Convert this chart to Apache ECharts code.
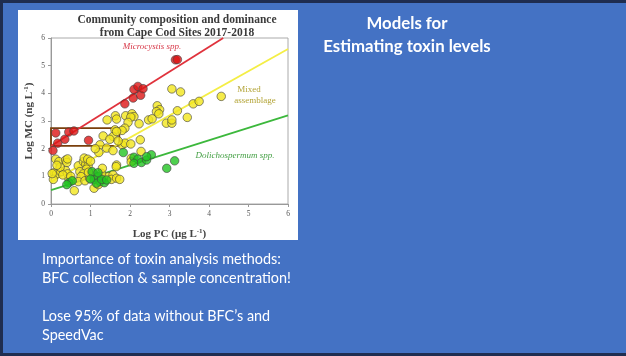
<!DOCTYPE html>
<html><head><meta charset="utf-8">
<script src="https://cdn.jsdelivr.net/npm/echarts@6/dist/echarts.min.js"></script>
<style>html,body{margin:0;padding:0;background:#4472C4;}#c{width:626px;height:356px;}</style>
</head><body><div id="c"></div>
<script>
const xTicks = [0,1,2,3,4,5,6];
const yTicks = [0,1,2,3,4,5,6];
const microcystis = [[0.05,1.93],[0.12,2.57],[0.17,2.2],[0.35,2.34],[0.45,2.6],[0.58,2.64],[0.95,2.3],[1.87,3.62],[2.08,3.83],[2.1,4.14],[2.2,4.25],[2.27,3.93],[2.33,4.17],[3.15,5.21],[3.2,5.22]];
const mixed = [[3.06,4.16],[3.28,4.05],[3.2,3.37],[3.45,3.13],[3.6,3.62],[3.75,3.71],[4.31,3.89],[2.92,2.92],[3.06,2.92],[3.06,3.04],
[1.42,3.04],[1.63,3.19],[1.66,3.07],[1.89,3.19],[2.05,3.26],[2.1,3.16],[2.02,3.14],[1.95,2.95],[2.23,2.9],[2.47,3.04],[2.56,3.08],[2.69,3.55],[2.75,3.41],[2.67,3.34],[2.73,3.26],
[1.62,2.68],[1.87,2.74],[1.8,2.66],[1.32,2.46],[1.57,2.44],[1.66,2.62],[1.49,2.34],[1.24,2.14],[1.41,2.02],[1.57,1.93],[1.8,2.14],[1.87,2.2],[2.02,2.17],[2.26,2.32],[2.28,1.9],[1.21,1.86],[1.12,2.0],[1.7,2.28],[1.66,1.41],[2.03,1.65],[2.03,1.52],[1.65,1.35],
[0.12,1.62],[0.2,1.53],[0.37,1.59],[0.4,1.5],[0.42,1.63],[0.08,1.13],[0.14,1.09],[0.25,1.17],[0.37,1.21],[0.42,1.09],[0.06,0.89],[0.23,1.33],[0.45,0.93],[0.52,0.84],[0.59,0.48],[0.69,1.38],[0.82,1.53],[0.88,1.44],[0.84,1.66],[0.94,1.38],[0.9,1.26],[0.73,1.17],[0.82,1.09],[0.76,0.99],[0.69,0.81],[0.86,0.84],[0.98,0.93],[1.09,0.57],[1.32,0.89],[1.45,0.99],[1.57,1.05],[1.53,0.89],[1.66,0.93],[1.74,0.89],[1.28,1.11],[1.07,1.11],[0.93,1.62],[1.3,1.29],[1.0,1.55],[0.03,1.1],[0.3,1.05],[0.15,1.4],[0.5,1.0],[0.95,1.15],[1.15,0.95],[1.2,0.7]];
const dolichospermum = [[0.45,0.77],[0.54,0.84],[0.4,0.7],[1.09,0.89],[1.19,0.99],[1.24,0.81],[1.35,0.77],[1.15,0.75],[1.28,0.89],[1.41,0.87],[1.04,1.17],[1.19,1.13],[1.0,0.9],[1.83,1.86],[2.1,1.69],[2.2,1.62],[2.1,1.47],[2.29,1.5],[2.42,1.59],[2.54,1.78],[2.42,1.71],[2.93,1.29],[3.13,1.56]];
const redLine = [[0,2.1],[4.36,6]];
const yellowLine = [[0,0.8],[6,5.6]];
const greenLine = [[0,0.5],[6,3.2]];
const boxCorners = [[0,2.1],[1.73,2.74]];

const chart = echarts.init(document.getElementById('c'), null, {renderer:'canvas'});
const serif = '"Liberation Serif","DejaVu Serif",serif';
const sans = 'Lato,"Open Sans",sans-serif';
function pts(data, color){
  return {type:'scatter', data, symbol:'circle', symbolSize:8.5,
    itemStyle:{color, borderColor:'#444', borderWidth:0.8}, z:5};
}
function ln(data, color){
  return {type:'line', data, symbol:'none', lineStyle:{color, width:1.8}, z:3, silent:true};
}
chart.setOption({
  backgroundColor:'#4472C4',
  animation:false,
  title:{text:'Community composition and dominance\nfrom Cape Cod Sites 2017-2018', left:172, top:9, textAlign:'center',
    textStyle:{fontFamily:serif, fontWeight:'bold', fontSize:11.5, color:'#3a3a3a', lineHeight:12.5}},
  graphic:[
    {type:'rect', shape:{x:0,y:0,width:3,height:356}, style:{fill:'#1f2d50'}, z:-1},
    {type:'rect', shape:{x:0,y:0,width:626,height:3}, style:{fill:'#1f2d50'}, z:-1},
    {type:'rect', shape:{x:0,y:353,width:626,height:3}, style:{fill:'#1f2d50'}, z:-1},
    {type:'rect', shape:{x:18,y:10,width:280,height:230}, style:{fill:'#ffffff'}, z:-1},
    {type:'text', style:{text:'Models for', x:407, y:24, textAlign:'center', textVerticalAlign:'middle', fill:'#fff', font:'bold 16.8px '+sans}},
    {type:'text', style:{text:'Estimating toxin levels', x:407, y:46.5, textAlign:'center', textVerticalAlign:'middle', fill:'#fff', font:'bold 16.8px '+sans}},
    {type:'text', style:{text:'Importance of toxin analysis methods:', x:42, y:259, textVerticalAlign:'middle', fill:'#fff', font:'14.4px '+sans}},
    {type:'text', style:{text:'BFC collection & sample concentration!', x:42, y:278, textVerticalAlign:'middle', fill:'#fff', font:'14.4px '+sans}},
    {type:'text', style:{text:'Lose 95% of data without BFC\u2019s and', x:42, y:316, textVerticalAlign:'middle', fill:'#fff', font:'14.4px '+sans}},
    {type:'text', style:{text:'SpeedVac', x:42, y:335, textVerticalAlign:'middle', fill:'#fff', font:'14.4px '+sans}},
    {type:'text', style:{text:'Microcystis spp.', x:152, y:47, textAlign:'center', textVerticalAlign:'middle', fill:'#d83a4a', font:'italic 9px '+serif}, z:10},
    {type:'text', style:{text:'Mixed', x:249, y:90, textAlign:'center', textVerticalAlign:'middle', fill:'#b3a437', font:'9px '+serif}, z:10},
    {type:'text', style:{text:'assemblage', x:255, y:101, textAlign:'center', textVerticalAlign:'middle', fill:'#b3a437', font:'9px '+serif}, z:10},
    {type:'text', style:{text:'Dolichospermum spp.', x:235, y:156, textAlign:'center', textVerticalAlign:'middle', fill:'#45a045', font:'italic 9px '+serif}, z:10}
  ],
  grid:{left:51, right:338, top:38, bottom:152, show:true, borderColor:'#aaa', borderWidth:1, backgroundColor:'transparent'},
  xAxis:{type:'value', min:0, max:6, interval:1,
    name:'{a|Log PC (\u03bcg L}{s|-1}{a|)}', nameLocation:'middle', nameGap:24,
    nameTextStyle:{rich:{a:{fontFamily:serif, fontSize:11, fontWeight:'bold', color:'#444'}, s:{fontFamily:serif, fontSize:7, fontWeight:'bold', color:'#444', verticalAlign:'top', padding:[0,0,6,0]}}},
    axisLine:{lineStyle:{color:'#999'}}, axisTick:{length:3, lineStyle:{color:'#999'}},
    axisLabel:{fontFamily:serif, fontSize:7.5, color:'#555', margin:6}, splitLine:{show:false}},
  yAxis:{type:'value', min:0, max:6, interval:1,
    name:'{a|Log MC (ng L}{s|-1}{a|)}', nameLocation:'middle', nameGap:15, nameRotate:90,
    nameTextStyle:{rich:{a:{fontFamily:serif, fontSize:11, fontWeight:'bold', color:'#444'}, s:{fontFamily:serif, fontSize:7, fontWeight:'bold', color:'#444', padding:[0,0,6,0]}}},
    axisLine:{show:true, lineStyle:{color:'#999'}}, axisTick:{show:true, length:3, lineStyle:{color:'#999'}},
    axisLabel:{fontFamily:serif, fontSize:7.5, color:'#555', margin:6}, splitLine:{show:false}},
  series:[
    ln(redLine,'#e0323c'), ln(yellowLine,'#f4ee45'), ln(greenLine,'#3cb83c'),
    pts(mixed,'#f2e61c'), pts(dolichospermum,'#22c422'), pts(microcystis,'#dd1515'),
    {type:'line', data:[], markArea:{silent:true, itemStyle:{color:'transparent', borderColor:'#7a3f0c', borderWidth:1.8},
      data:[[{coord:boxCorners[0]},{coord:boxCorners[1]}]]}, z:6}
  ]
});
</script></body></html>
